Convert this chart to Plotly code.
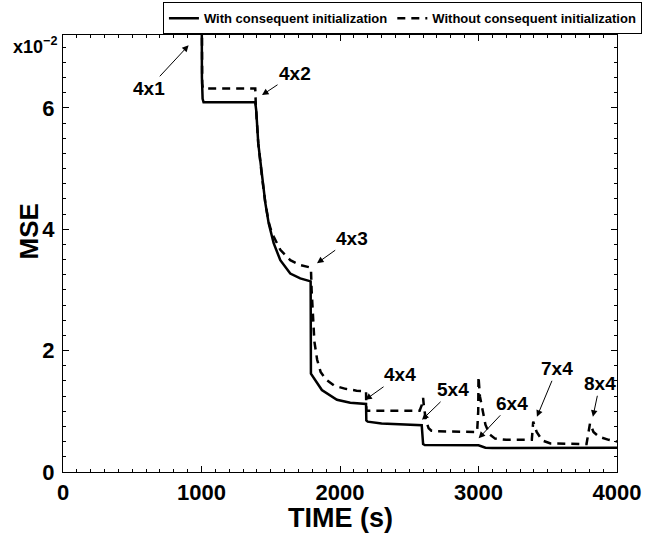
import plotly.graph_objects as go

# Values in units of 1e-2 (axis shows x10^-2)
t_with = [1000, 1000, 1003, 1008, 1015, 1388, 1392, 1395, 1410, 1437, 1461, 1485, 1521, 1569, 1641, 1713,
          1773, 1788, 1790, 1810, 1869, 1978, 2074, 2188, 2190, 2200, 2300, 2590, 2600, 2612, 3000, 3050,
          3100, 4000]
mse_with = [9.0, 7.5, 6.5, 6.15, 6.09, 6.09, 6.02, 5.96, 5.41, 4.86, 4.43, 4.10, 3.77, 3.49, 3.27, 3.19,
            3.15, 3.14, 1.62, 1.55, 1.35, 1.19, 1.14, 1.12, 0.85, 0.83, 0.80, 0.77, 0.46, 0.445, 0.44, 0.40,
            0.395, 0.40]

t_without = [1000, 1000, 1005, 1010, 1388, 1392, 1395, 1410, 1437, 1461, 1485, 1500, 1521, 1569, 1641,
             1713, 1786, 1790, 1795, 1805, 1815, 1835, 1860, 1900, 1960, 2040, 2120, 2188, 2190, 2200,
             2575, 2590, 2600, 2605, 2620, 2640, 2660, 2700, 2990, 2998, 3000, 3010, 3025, 3050, 3080,
             3120, 3200, 3385, 3395, 3420, 3460, 3520, 3780, 3805, 3830, 3870, 3940, 4000]
mse_without = [9.0, 7.5, 6.4, 6.32, 6.32, 6.05, 5.96, 5.41, 4.86, 4.43, 4.12, 4.0, 3.88, 3.66, 3.49,
               3.41, 3.37, 3.36, 3.0, 2.5, 2.15, 1.85, 1.65, 1.52, 1.42, 1.37, 1.34, 1.33, 1.02, 1.01,
               1.01, 1.1, 1.22, 1.1, 0.85, 0.72, 0.68, 0.67, 0.66, 1.0, 1.57, 1.25, 1.05, 0.78, 0.62,
               0.55, 0.53, 0.53, 0.83, 0.66, 0.52, 0.47, 0.46, 0.80, 0.66, 0.58, 0.53, 0.50]

x_ticks = [0, 1000, 2000, 3000, 4000]
y_ticks = [0, 2, 4, 6]

# annotation labels with arrow tip (data) and text offset (pixels)
labels = ["4x1", "4x2", "4x3", "4x4", "5x4", "6x4", "7x4", "8x4"]
tip_t = [907, 1437, 1834, 2183, 2592, 3001, 3422, 3826]
tip_v = [7.03, 6.21, 3.44, 1.19, 0.86, 0.555, 0.91, 0.91]
off_x = [-40, 33, 35, 35, 31, 33, 20, 7]
off_y = [43, -22, -25, -25, -30, -35, -48, -33]

FONT = "Liberation Sans, Arial, sans-serif"

fig = go.Figure()
fig.add_trace(go.Scatter(x=t_with, y=mse_with, mode="lines", name="With consequent initialization",
                         line=dict(color="black", width=2.5)))
fig.add_trace(go.Scatter(x=t_without, y=mse_without, mode="lines", name="Without consequent initialization",
                         line=dict(color="black", width=2.5, dash="8px,6px")))

for lab, tx, ty, ax, ay in zip(labels, tip_t, tip_v, off_x, off_y):
    fig.add_annotation(x=tx, y=ty, text=lab, showarrow=True, ax=ax, ay=ay, axref="pixel", ayref="pixel",
                       arrowhead=2, arrowsize=1.3, arrowwidth=1, arrowcolor="black",
                       font=dict(family=FONT, size=19, color="black", weight="bold"))

fig.add_annotation(xref="paper", yref="paper", x=0, y=1, xanchor="right", yanchor="middle",
                   xshift=-4, yshift=-10, showarrow=False, text="x10<sup>−2</sup>",
                   font=dict(family=FONT, size=18, color="black", weight="bold"))
fig.add_annotation(xref="paper", yref="paper", x=0, y=0.5, xanchor="center", yanchor="middle",
                   xshift=-35, yshift=22, showarrow=False, text="MSE", textangle=-90,
                   font=dict(family=FONT, size=26, color="black", weight="bold"))
fig.add_annotation(xref="paper", yref="paper", x=0.5, y=0, xanchor="center", yanchor="middle",
                   yshift=-46, showarrow=False, text="TIME (s)",
                   font=dict(family=FONT, size=27, color="black", weight="bold"))

axis_common = dict(showline=True, linecolor="black", linewidth=1, mirror="ticks", ticks="inside",
                   ticklen=6, tickcolor="black", tickwidth=1, showgrid=False, zeroline=False,
                   tickfont=dict(family=FONT, size=22, color="black", weight="bold"))

fig.update_xaxes(range=[0, 4000], tickvals=x_ticks, ticktext=[str(v) for v in x_ticks],
                 minor=dict(dtick=100, ticks="inside", ticklen=3, tickcolor="black", showgrid=False),
                 ticklabelstandoff=1, **axis_common)
fig.update_yaxes(range=[0, 7.2], tickvals=y_ticks, ticktext=[str(v) for v in y_ticks],
                 minor=dict(dtick=0.25, ticks="inside", ticklen=3, tickcolor="black", showgrid=False),
                 ticklabelstandoff=3, **axis_common)

fig.update_layout(
    width=646, height=535,
    margin=dict(l=63, r=29, t=35, b=63, autoexpand=False),
    plot_bgcolor="white", paper_bgcolor="white",
    showlegend=True,
    legend=dict(orientation="h", x=1.045, xanchor="right", y=1.075, yanchor="top",
                bordercolor="black", borderwidth=1, bgcolor="white",
                font=dict(family=FONT, size=13, color="black", weight="bold"),
                itemwidth=30, tracegroupgap=0),
)

fig.write_html("out.html")
